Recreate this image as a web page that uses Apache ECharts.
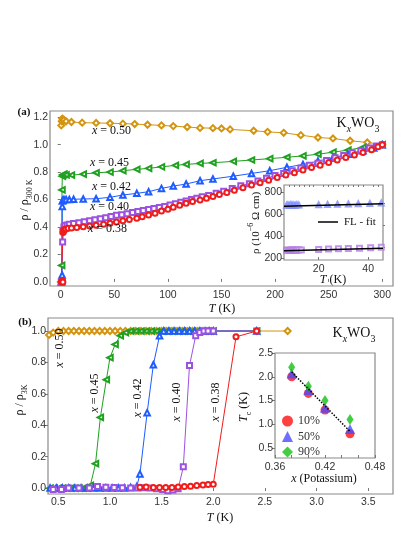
<!DOCTYPE html>
<html>
<head>
<meta charset="utf-8">
<script src="https://cdn.jsdelivr.net/npm/echarts@6/dist/echarts.min.js"></script>
<style>
  html, body { margin: 0; padding: 0; background: #fff; }
  #main { width: 415px; height: 537px; }
</style>
</head>
<body>
<div id="main"></div>
<script>
// ---- panel (a): rho / rho(300K) vs T ----
var aT50 = [0.5, 1, 1.5, 2, 3, 5, 10, 20, 33, 46, 58, 69, 81, 94, 105, 118, 130, 142, 150, 158, 180, 193, 208, 224, 240, 254, 270, 286, 300];
var aR50 = [1.14, 1.17, 1.19, 1.18, 1.18, 1.17, 1.165, 1.16, 1.158, 1.156, 1.153, 1.15, 1.145, 1.14, 1.135, 1.128, 1.122, 1.12, 1.118, 1.111, 1.101, 1.093, 1.086, 1.069, 1.052, 1.045, 1.028, 1.016, 1.0];

var aT45 = [0.5, 0.9, 1.2, 1.5, 2, 3, 5, 10, 21, 33, 46, 58, 71, 82, 94, 107, 117, 130, 142, 161, 178, 195, 211, 226, 240, 254, 268, 282, 300];
var aR45 = [0.0, 0.12, 0.67, 0.77, 0.78, 0.785, 0.78, 0.778, 0.785, 0.795, 0.80, 0.81, 0.82, 0.827, 0.838, 0.849, 0.856, 0.863, 0.868, 0.878, 0.888, 0.898, 0.908, 0.918, 0.93, 0.945, 0.96, 0.98, 1.0];

var aT42 = [0.5, 1.3, 1.45, 1.6, 2, 3, 5, 8, 12, 21, 33, 46, 58, 71, 82, 94, 105, 117, 130, 142, 161, 178, 195, 211, 226, 240, 254, 268, 282, 292, 300];
var aR42 = [0.0, 0.05, 0.55, 0.59, 0.595, 0.6, 0.6, 0.6, 0.602, 0.604, 0.606, 0.616, 0.633, 0.645, 0.657, 0.681, 0.698, 0.713, 0.737, 0.75, 0.77, 0.79, 0.81, 0.835, 0.855, 0.88, 0.905, 0.93, 0.955, 0.975, 1.0];

var aT40 = [0.5, 1.5, 1.8, 2, 3, 4, 6, 8, 12, 17, 22, 27, 32, 37, 42, 47, 52, 57, 62, 67, 72, 77, 82, 87, 92, 97, 102, 107, 112, 117, 122, 127, 132, 138, 145, 152, 160, 168, 176, 184, 192, 200, 208, 216, 224, 232, 240, 248, 256, 264, 272, 280, 288, 295, 300];
var aR40 = [0, 0, 0.29, 0.37, 0.40, 0.41, 0.415, 0.42, 0.425, 0.43, 0.438, 0.445, 0.452, 0.46, 0.468, 0.477, 0.485, 0.49, 0.497, 0.505, 0.512, 0.52, 0.527, 0.535, 0.542, 0.55, 0.56, 0.57, 0.58, 0.59, 0.60, 0.61, 0.62, 0.63, 0.645, 0.66, 0.68, 0.70, 0.715, 0.735, 0.755, 0.775, 0.79, 0.81, 0.83, 0.85, 0.865, 0.885, 0.905, 0.92, 0.94, 0.955, 0.975, 0.99, 1.0];

var aT38 = [0.5, 1, 1.5, 2, 2.2, 2.5, 3, 4, 5, 7, 10, 15, 21, 27, 33, 40, 46, 52, 58, 64, 71, 76, 82, 88, 94, 100, 105, 111, 117, 123, 130, 136, 142, 148, 155, 162, 170, 178, 186, 194, 202, 210, 218, 226, 234, 242, 250, 258, 266, 274, 282, 290, 296, 300];
var aR38 = [0, 0.005, 0.01, 0.0, 0.36, 0.37, 0.38, 0.383, 0.385, 0.39, 0.392, 0.397, 0.402, 0.407, 0.412, 0.42, 0.427, 0.437, 0.446, 0.455, 0.463, 0.474, 0.487, 0.5, 0.516, 0.53, 0.543, 0.558, 0.572, 0.585, 0.597, 0.61, 0.622, 0.637, 0.652, 0.668, 0.686, 0.705, 0.722, 0.74, 0.76, 0.778, 0.795, 0.815, 0.833, 0.85, 0.87, 0.888, 0.906, 0.925, 0.943, 0.962, 0.985, 1.0];

var aXTicks = [0, 50, 100, 150, 200, 250, 300];
var aYTicks = [0, 0.2, 0.4, 0.6, 0.8, 1.0, 1.2];

// inset (a): rho in 10^-6 Ohm cm vs T
var iaT42 = [7, 7.6, 8.2, 8.8, 9.4, 10, 10.6, 11.2, 12, 20, 23.6, 27.6, 32, 36, 40.7, 45.3];
var iaR42 = [680, 684, 678, 686, 681, 683, 679, 685, 682, 684, 688, 690, 692, 694, 697, 700];
var iaT40 = [7, 7.6, 8.2, 8.8, 9.4, 10, 10.6, 11.2, 12, 13, 20, 24, 28, 32, 36.5, 41, 45.3];
var iaR40 = [268, 272, 266, 270, 274, 268, 271, 269, 273, 272, 276, 280, 282, 285, 288, 292, 296];
var iaFitT = [6, 46];
var iaFit42 = [671, 694];
var iaFit40 = [264, 288];
var iaXTicks = [20, 40];
var iaXMinor = [8, 10, 12, 14, 16, 18, 22, 24, 26, 28, 30, 32, 34, 36, 38, 42, 44];
var iaYTicks = [200, 400, 600, 800];

// ---- panel (b): rho / rho(3K) vs T ----
var bT50 = [0.41, 0.45, 0.5, 0.55, 0.6, 0.65, 0.7, 0.75, 0.8, 0.85, 0.9, 0.95, 1.0, 1.05, 1.1, 1.15, 1.2, 1.25, 1.3, 1.35, 1.4, 1.45, 1.5, 1.55, 1.6, 1.65, 1.7, 1.75, 1.8, 1.85, 1.9, 1.95, 2.0, 2.42, 2.72];
var bR50 = [0.975, 0.99, 1.0, 1.0, 1.0, 1.0, 1.0, 1.0, 1.0, 1.0, 1.0, 1.0, 1.0, 1.0, 1.0, 1.0, 1.0, 1.0, 1.0, 1.0, 1.0, 1.0, 1.0, 1.0, 1.0, 1.0, 1.0, 1.0, 1.0, 1.0, 1.0, 1.0, 1.0, 1.0, 1.0];

var bT45 = [0.42, 0.46, 0.5, 0.54, 0.58, 0.62, 0.66, 0.7, 0.74, 0.78, 0.81, 0.86, 0.907, 0.965, 1.0, 1.05, 1.1, 1.15, 1.2, 1.25, 1.3, 1.35, 1.4, 1.45, 1.5, 1.55, 1.6, 1.65, 1.7, 1.75, 1.8, 1.85, 1.9, 1.95, 2.0, 2.42];
var bR45 = [0.0, 0.0, 0.0, 0.0, 0.0, 0.0, 0.0, 0.0, 0.0, 0.002, 0.017, 0.155, 0.45, 0.69, 0.83, 0.915, 0.97, 0.99, 1.0, 1.0, 1.0, 1.0, 1.0, 1.0, 1.0, 1.0, 1.0, 1.0, 1.0, 1.0, 1.0, 1.0, 1.0, 1.0, 1.0, 1.0];

var bT42 = [0.42, 0.48, 0.54, 0.6, 0.66, 0.72, 0.78, 0.84, 0.9, 0.96, 1.02, 1.08, 1.14, 1.2, 1.26, 1.29, 1.36, 1.42, 1.48, 1.52, 1.57, 1.62, 1.67, 1.72, 1.77, 1.82, 1.87, 1.92, 1.96, 2.0, 2.42];
var bR42 = [0.0, 0.0, 0.0, 0.0, 0.0, 0.0, 0.0, 0.0, 0.0, 0.0, 0.0, 0.0, 0.0, 0.003, 0.01, 0.09, 0.48, 0.785, 0.97, 1.0, 1.0, 1.0, 1.0, 1.0, 1.0, 1.0, 1.0, 1.0, 1.0, 1.0, 1.0];

var bT40 = [0.45, 0.53, 0.6, 0.7, 0.8, 0.88, 0.96, 1.04, 1.12, 1.2, 1.27, 1.33, 1.39, 1.45, 1.51, 1.56, 1.61, 1.66, 1.71, 1.77, 1.83, 1.87, 1.91, 1.95, 2.0, 2.42];
var bR40 = [-0.01, -0.01, 0.0, 0.0, 0.0, 0.01, 0.005, 0.003, 0.002, 0.0, 0.0, 0.002, 0.0, -0.005, -0.01, -0.018, -0.012, -0.005, 0.135, 0.78, 0.97, 0.99, 1.0, 1.0, 1.0, 1.0];

var bT38 = [1.29, 1.35, 1.42, 1.48, 1.54, 1.6, 1.66, 1.72, 1.78, 1.84, 1.9, 1.95, 2.0, 2.22, 2.42];
var bR38 = [0.005, 0.006, 0.004, 0.003, 0.004, 0.003, 0.006, 0.01, 0.012, 0.016, 0.02, 0.022, 0.024, 0.963, 1.0];

var bXTicks = [0.5, 1.0, 1.5, 2.0, 2.5, 3.0, 3.5];
var bYTicks = [0, 0.2, 0.4, 0.6, 0.8, 1.0];

// inset (b): Tc vs potassium content
var ibX = [0.38, 0.40, 0.42, 0.45];
var ibTc10 = [2.0, 1.65, 1.3, 0.8];
var ibTc50 = [2.07, 1.72, 1.35, 0.9];
var ibTc90 = [2.2, 1.8, 1.5, 1.1];
var ibFitX = [0.38, 0.45];
var ibFitY = [2.1, 0.85];
var ibXLabels = [0.36, 0.42, 0.48];
var ibXTicks = [0.36, 0.38, 0.40, 0.42, 0.44, 0.46, 0.48];
var ibYTicks = [0.5, 1.0, 1.5, 2.0, 2.5];

var SERIF = "'Liberation Serif', 'DejaVu Serif', serif";
var SANS = "'Liberation Sans', Arial, sans-serif";
var C50 = '#d4940f', C45 = '#20a020', C42 = '#1f5cff', C40 = '#9c52e0', C38 = '#f01c1c';

function zip(xs, ys) {
    var out = [];
    for (var i = 0; i < xs.length; i++) out.push([xs[i], ys[i]]);
    return out;
}

var myChart = echarts.init(document.getElementById('main'));

// value axis with hand-placed tick/label positions
function valAxis(grid, min, max, ticks, fmt, inside, margin, labels) {
    return {
        type: 'value', gridIndex: grid, min: min, max: max,
        axisLine: { show: false },
        splitLine: { show: false },
        axisTick: { show: true, inside: inside, length: 3, customValues: ticks, lineStyle: { color: '#777' } },
        axisLabel: {
            customValues: labels || ticks, color: '#333', fontSize: 10.5, fontFamily: SANS, margin: margin,
            hideOverlap: false, formatter: fmt
        }
    };
}
function minorAxis(grid, min, max, ticks, inside) {
    return {
        type: 'value', gridIndex: grid, min: min, max: max,
        axisLine: { show: false }, splitLine: { show: false },
        axisLabel: { show: false },
        axisTick: { show: true, inside: inside, length: 2, customValues: ticks, lineStyle: { color: '#777' } }
    };
}
function f1(v) { return Number(v).toFixed(1); }
function f2(v) { return Number(v).toFixed(2); }
function f0(v) { return String(v); }

function lineSeries(name, xi, yi, data, color, symbol, size, rot) {
    return {
        name: name, type: 'line', xAxisIndex: xi, yAxisIndex: yi, data: data,
        symbol: symbol, symbolSize: size, symbolRotate: rot || 0, showSymbol: true,
        lineStyle: { color: color, width: 1 },
        itemStyle: { color: color, borderColor: color, borderWidth: 1 },
        animation: false
    };
}

var sub = { fontSize: 8, verticalAlign: 'bottom', lineHeight: 18, fontFamily: SERIF };
var it = { fontStyle: 'italic', fontFamily: SERIF };

function txt(x, y, text, size, opts) {
    opts = opts || {};
    var lh = opts.lh || 18;
    var rich = {
        i: Object.assign({ fontSize: size, lineHeight: lh }, it),
        s: opts.sub || sub,
        p: { fontSize: 8, verticalAlign: 'top', lineHeight: 18, fontFamily: SERIF }
    };
    if (opts.rich) Object.assign(rich, opts.rich);
    return {
        type: 'text', x: x, y: y, rotation: opts.rot || 0, z: 100,
        style: {
            text: text, fontSize: size, fontFamily: SERIF, fill: '#111',
            fontWeight: opts.bold ? 'bold' : 'normal',
            align: opts.align || 'center', verticalAlign: 'middle', lineHeight: lh,
            rich: rich
        }
    };
}

var R = Math.PI / 2;
var kSub = { fontSize: 10, verticalAlign: 'bottom', lineHeight: 22, fontFamily: SERIF };
var kRich = { k: { fontSize: 10, verticalAlign: 'bottom', lineHeight: 22, fontFamily: SERIF, fontStyle: 'italic' } };

var option = {
    backgroundColor: '#fff',
    animation: false,
    grid: [
        { left: 50, top: 111, width: 343, height: 175, show: true, borderColor: '#8a8a8a', borderWidth: 1.2 },
        { left: 284, top: 185, width: 99, height: 75, show: true, borderColor: '#8a8a8a', borderWidth: 1.2, backgroundColor: '#fff' },
        { left: 48, top: 318, width: 345, height: 176, show: true, borderColor: '#8a8a8a', borderWidth: 1.2 },
        { left: 275, top: 353, width: 100, height: 105, show: true, borderColor: '#8a8a8a', borderWidth: 1.2, backgroundColor: '#fff' }
    ],
    xAxis: [
        valAxis(0, -10, 310, aXTicks, f0, true, 4),
        valAxis(1, 6, 46, iaXTicks, f0, true, 4),
        valAxis(2, 0.4, 3.74, bXTicks, f1, false, 3),
        valAxis(3, 0.36, 0.48, ibXTicks, f2, true, 4, ibXLabels),
        minorAxis(1, 6, 46, iaXMinor, true)
    ],
    yAxis: [
        valAxis(0, -0.03, 1.245, aYTicks, f1, false, 2),
        valAxis(1, 180, 865, iaYTicks, f0, false, 2),
        valAxis(2, -0.038, 1.083, bYTicks, f1, false, 2),
        valAxis(3, 0.29, 2.5, ibYTicks, f1, false, 2),
        minorAxis(1, 180, 865, [300, 500, 700], false)
    ],
    legend: {
        data: ['10%', '50%', '90%'], orient: 'vertical', left: 282, top: 415,
        itemWidth: 11, itemHeight: 11, itemGap: 3.5, padding: 0,
        textStyle: { fontFamily: SERIF, fontSize: 12, color: '#333', lineHeight: 11 }
    },
    graphic: [
        txt(24, 112, '(a)', 11, { bold: true }),
        txt(25, 322, '(b)', 11, { bold: true }),
        txt(358, 123, 'K{k|x}WO{s|3}', 14, { sub: kSub, lh: 22, rich: kRich }),
        txt(354, 333, 'K{k|x}WO{s|3}', 14, { sub: kSub, lh: 22, rich: kRich }),
        txt(92, 131, '{i|x} = 0.50', 12, { align: 'left' }),
        txt(90, 163, '{i|x} = 0.45', 12, { align: 'left' }),
        txt(92, 187, '{i|x} = 0.42', 12, { align: 'left' }),
        txt(90, 207, '{i|x} = 0.40', 12, { align: 'left' }),
        txt(88, 229, '{i|x} = 0.38', 12, { align: 'left' }),
        txt(25, 200, 'ρ / ρ{s|300 K}', 12, { rot: R }),
        txt(222, 309, '{i|T} (K)', 12),
        txt(20, 400, 'ρ / ρ{s|3K}', 12, { rot: R }),
        txt(220, 518, '{i|T} (K)', 12),
        txt(60, 348, '{i|x} = 0.50', 12, { rot: R }),
        txt(95, 393, '{i|x} = 0.45', 12, { rot: R }),
        txt(138, 398, '{i|x} = 0.42', 12, { rot: R }),
        txt(177, 402, '{i|x} = 0.40', 12, { rot: R }),
        txt(216, 402, '{i|x} = 0.38', 12, { rot: R }),
        txt(256, 223, 'ρ (10{p|−6} Ω cm)', 11, { rot: R }),
        txt(333, 280, '{i|T} (K)', 12),
        txt(344, 222, 'FL - fit', 11, { align: 'left' }),
        { type: 'line', z: 100, shape: { x1: 318, y1: 222, x2: 338, y2: 222 }, style: { stroke: '#000', lineWidth: 1.5 } },
        txt(244, 407, '{i|T}{s|c} (K)', 12, { rot: R }),
        txt(324, 479, '{i|x} (Potassium)', 12)
    ],
    series: [
        lineSeries('a50', 0, 0, zip(aT50, aR50), C50, 'emptyDiamond', 6),
        lineSeries('a45', 0, 0, zip(aT45, aR45), C45, 'emptyTriangle', 5.5, 90),
        lineSeries('a42', 0, 0, zip(aT42, aR42), C42, 'emptyTriangle', 5.5),
        lineSeries('a40', 0, 0, zip(aT40, aR40), C40, 'emptyRect', 5),
        lineSeries('a38', 0, 0, zip(aT38, aR38), C38, 'emptyCircle', 5),

        { type: 'scatter', xAxisIndex: 1, yAxisIndex: 1, data: zip(iaT42, iaR42), symbol: 'emptyTriangle', symbolSize: 5,
          itemStyle: { color: '#7d8cff', borderColor: '#7d8cff', borderWidth: 1 } },
        { type: 'scatter', xAxisIndex: 1, yAxisIndex: 1, data: zip(iaT40, iaR40), symbol: 'emptyRect', symbolSize: 5,
          itemStyle: { color: '#b37be6', borderColor: '#b37be6', borderWidth: 1 } },
        { type: 'line', xAxisIndex: 1, yAxisIndex: 1, data: zip(iaFitT, iaFit42), symbol: 'none', lineStyle: { color: '#000', width: 1.5 } },
        { type: 'line', xAxisIndex: 1, yAxisIndex: 1, data: zip(iaFitT, iaFit40), symbol: 'none', lineStyle: { color: '#000', width: 1.5 } },

        lineSeries('b50', 2, 2, zip(bT50, bR50), C50, 'emptyDiamond', 6),
        lineSeries('b45', 2, 2, zip(bT45, bR45), C45, 'emptyTriangle', 5.5, 90),
        lineSeries('b42', 2, 2, zip(bT42, bR42), C42, 'emptyTriangle', 5.5),
        lineSeries('b40', 2, 2, zip(bT40, bR40), C40, 'emptyRect', 5),
        lineSeries('b38', 2, 2, zip(bT38, bR38), C38, 'emptyCircle', 5),

        { type: 'line', xAxisIndex: 3, yAxisIndex: 3, data: zip(ibFitX, ibFitY), symbol: 'none', lineStyle: { color: '#000', width: 1.5, type: 'dotted' } },
        { name: '10%', type: 'scatter', xAxisIndex: 3, yAxisIndex: 3, data: zip(ibX, ibTc10), symbol: 'circle', symbolSize: 9, itemStyle: { color: '#ff1010' } },
        { name: '50%', type: 'scatter', xAxisIndex: 3, yAxisIndex: 3, data: zip(ibX, ibTc50), symbol: 'triangle', symbolSize: 10, itemStyle: { color: '#4a4aff' } },
        { name: '90%', type: 'scatter', xAxisIndex: 3, yAxisIndex: 3, data: zip(ibX, ibTc90), symbol: 'diamond', symbolSize: [7, 11], itemStyle: { color: '#14c014' } }
    ]
};

myChart.setOption(option);
</script>
</body>
</html>
